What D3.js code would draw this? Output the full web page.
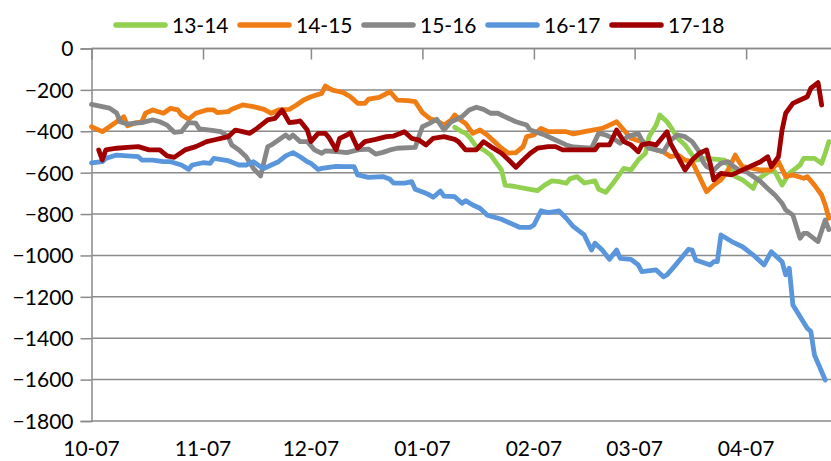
<!DOCTYPE html>
<html>
<head>
<meta charset="utf-8">
<script src="https://cdn.jsdelivr.net/npm/d3@7"></script>
<style>
html,body{margin:0;padding:0;background:#fff;}
svg{display:block;}
text{font-family:Lato, "Open Sans", sans-serif;fill:#000;}
</style>
</head>
<body>
<svg id="chart" width="831" height="461"></svg>
<script>
// ---- data (x = days since 10-07) ----
const seriesNames = ["13-14","14-15","15-16","16-17","17-18"];
const seriesColors = ["#92D050","#F07D14","#878787","#5A96DC","#A00000"];
const tickDays = [0,31,61,92,123,151,182];
const tickLabels = ["10-07","11-07","12-07","01-07","02-07","03-07","04-07"];
const yTicks = [0,-200,-400,-600,-800,-1000,-1200,-1400,-1600,-1800];

const s1314 = [[101,-381],[103,-402],[104,-410],[105,-426],[107,-474],[109,-490],[111,-515],[112,-539],[114,-587],[115,-660],[118,-668],[122,-681],[124,-687],[126,-660],[128,-640],[130,-643],[132,-651],[133,-630],[135,-619],[137,-650],[140,-640],[141,-680],[143,-695],[145,-651],[147,-603],[148,-579],[150,-587],[152,-539],[154,-506],[155,-426],[157,-370],[158,-321],[160,-354],[161,-378],[163,-434],[165,-466],[166,-490],[168,-539],[171,-531],[174,-536],[176,-539],[178,-587],[179,-619],[181,-635],[184,-676],[185,-635],[187,-611],[189,-587],[190,-595],[192,-660],[194,-603],[197,-563],[198,-531],[201,-531],[203,-555],[204,-506],[205,-450]];

const s1415 = [[0,-378],[3,-402],[5,-378],[7,-354],[9,-330],[10,-373],[12,-361],[14,-354],[15,-313],[17,-297],[20,-313],[22,-289],[24,-297],[25,-321],[27,-342],[29,-313],[32,-297],[34,-297],[35,-310],[38,-305],[39,-294],[42,-273],[45,-281],[48,-294],[50,-313],[52,-297],[55,-294],[57,-273],[59,-249],[61,-233],[64,-217],[65,-181],[67,-201],[69,-209],[70,-213],[72,-233],[74,-265],[76,-265],[77,-245],[80,-236],[83,-209],[85,-249],[88,-252],[90,-257],[92,-310],[94,-338],[96,-349],[98,-370],[100,-345],[101,-321],[102,-338],[104,-362],[106,-410],[108,-394],[110,-418],[112,-450],[114,-482],[116,-506],[118,-503],[120,-474],[121,-426],[123,-418],[125,-386],[127,-402],[129,-402],[132,-402],[134,-413],[137,-402],[142,-386],[144,-370],[146,-354],[148,-394],[150,-434],[153,-450],[155,-474],[157,-490],[159,-499],[161,-523],[163,-515],[165,-539],[167,-547],[169,-619],[171,-692],[173,-660],[175,-635],[177,-587],[179,-515],[180,-547],[181,-571],[184,-579],[186,-587],[189,-587],[191,-547],[193,-619],[195,-611],[198,-627],[199,-619],[201,-660],[203,-708],[204,-756],[205,-820]];

const s1516 = [[0,-270],[5,-288],[7,-312],[8,-354],[10,-366],[12,-361],[14,-358],[17,-345],[19,-354],[21,-370],[23,-405],[25,-402],[27,-358],[29,-361],[30,-389],[33,-394],[36,-402],[38,-426],[39,-466],[41,-490],[43,-523],[45,-579],[47,-616],[49,-474],[50,-466],[52,-442],[54,-418],[55,-434],[56,-418],[58,-450],[60,-450],[62,-490],[64,-506],[65,-495],[69,-499],[71,-503],[74,-490],[77,-486],[79,-510],[81,-502],[83,-490],[85,-482],[90,-478],[91,-426],[92,-378],[94,-362],[96,-342],[98,-394],[100,-354],[102,-338],[103,-330],[105,-297],[107,-284],[109,-294],[111,-313],[113,-313],[115,-330],[118,-354],[121,-370],[122,-394],[126,-418],[129,-442],[132,-466],[134,-476],[139,-482],[141,-410],[143,-418],[145,-434],[147,-458],[149,-426],[152,-410],[153,-442],[155,-482],[157,-490],[159,-499],[161,-442],[163,-418],[165,-426],[167,-450],[169,-499],[170,-547],[171,-571],[173,-587],[175,-555],[177,-547],[178,-563],[180,-587],[182,-595],[184,-619],[186,-643],[188,-676],[190,-708],[192,-748],[193,-780],[195,-805],[197,-917],[198,-893],[199,-893],[202,-933],[204,-829],[205,-875]];

const s1617 = [[0,-553],[3,-547],[4,-531],[7,-515],[10,-519],[13,-523],[14,-539],[17,-539],[20,-547],[22,-547],[25,-563],[27,-584],[28,-563],[31,-552],[33,-555],[34,-531],[37,-539],[38,-542],[41,-563],[43,-563],[45,-547],[47,-571],[48,-579],[50,-563],[52,-547],[54,-519],[56,-503],[58,-523],[60,-547],[61,-555],[63,-584],[64,-579],[66,-574],[68,-570],[71,-571],[73,-571],[74,-611],[77,-623],[81,-619],[83,-632],[84,-651],[87,-651],[89,-643],[90,-680],[93,-700],[94,-708],[95,-719],[97,-689],[98,-713],[101,-716],[103,-748],[104,-735],[106,-756],[108,-772],[110,-805],[114,-825],[119,-864],[122,-864],[123,-853],[125,-784],[127,-793],[130,-785],[132,-820],[134,-861],[137,-901],[139,-974],[140,-941],[142,-974],[144,-1019],[146,-974],[147,-1014],[150,-1019],[152,-1046],[153,-1078],[157,-1070],[159,-1103],[160,-1094],[162,-1054],[166,-970],[167,-974],[168,-1022],[172,-1046],[173,-1030],[174,-1030],[175,-901],[178,-933],[181,-958],[184,-998],[187,-1046],[189,-982],[192,-1030],[193,-1094],[194,-1062],[195,-1239],[199,-1352],[200,-1368],[201,-1481],[202,-1521],[204,-1602]];

const s1718 = [[2,-490],[3,-539],[4,-490],[7,-482],[10,-478],[13,-474],[16,-490],[19,-490],[21,-519],[23,-526],[26,-490],[29,-474],[32,-450],[34,-442],[36,-434],[38,-426],[40,-394],[42,-402],[44,-410],[46,-386],[49,-345],[51,-338],[53,-297],[55,-358],[57,-354],[58,-350],[60,-394],[61,-450],[63,-410],[65,-410],[66,-430],[68,-490],[69,-434],[71,-418],[72,-407],[74,-482],[76,-450],[79,-439],[82,-426],[84,-423],[87,-402],[89,-434],[91,-442],[93,-466],[95,-434],[98,-426],[101,-439],[102,-450],[104,-490],[107,-490],[109,-450],[111,-474],[114,-506],[116,-539],[118,-574],[120,-539],[122,-506],[124,-482],[127,-474],[129,-474],[131,-490],[140,-490],[141,-466],[144,-466],[146,-394],[148,-450],[150,-466],[152,-499],[153,-466],[155,-458],[157,-466],[160,-402],[161,-458],[163,-523],[165,-587],[167,-539],[169,-506],[171,-490],[172,-555],[173,-635],[175,-603],[178,-611],[180,-595],[183,-571],[186,-547],[188,-523],[189,-571],[191,-523],[192,-394],[193,-313],[195,-265],[197,-249],[199,-233],[200,-192],[202,-165],[203,-273]];

const seriesData = [s1314, s1415, s1516, s1617, s1718];

// ---- drawing ----
const svg = d3.select("#chart");
const x = d3.scaleLinear().domain([0, 205.6]).range([91.5, 831]);
const y = d3.scaleLinear().domain([-1800, 0]).range([421, 48.5]);
const gridColor = "#8a8a8a";
const fontSize = "21px";

// gridlines
svg.append("g").selectAll("line").data(yTicks).join("line")
  .attr("x1", x.range()[0]).attr("x2", 831)
  .attr("y1", d => y(d)).attr("y2", d => y(d))
  .attr("stroke", gridColor).attr("stroke-width", 1.5);

// y axis
const yAxis = svg.append("g").attr("transform", `translate(${x.range()[0]},0)`)
  .call(d3.axisLeft(y).tickValues(yTicks).tickSize(11).tickPadding(7).tickFormat(d3.format("d")));
yAxis.select(".domain").attr("stroke", gridColor).attr("stroke-width", 1.5);
yAxis.selectAll(".tick line").attr("stroke", gridColor).attr("stroke-width", 1.5);
yAxis.selectAll("text").style("font-size", fontSize).attr("dy", "0.35em");

// x axis (at value 0, top) with ticks pointing down; labels below the plot
const xAxis = svg.append("g").attr("transform", `translate(0,${y(0)})`)
  .call(d3.axisBottom(x).tickValues(tickDays).tickSize(11).tickFormat(""));
xAxis.select(".domain").attr("stroke", gridColor).attr("stroke-width", 1.5).attr("d", `M${x.range()[0]},0H831`);
xAxis.selectAll(".tick line").attr("stroke", gridColor).attr("stroke-width", 1.5);

svg.append("g").selectAll("text").data(tickDays).join("text")
  .attr("x", d => x(d)).attr("y", 456)
  .attr("text-anchor", "middle").style("font-size", fontSize)
  .text((d, i) => tickLabels[i]);

// lines
const line = d3.line().x(d => x(d[0])).y(d => y(d[1]));
svg.append("g").selectAll("path").data(seriesData).join("path")
  .attr("d", line)
  .attr("fill", "none")
  .attr("stroke", (d, i) => seriesColors[i])
  .attr("stroke-width", 4.8)
  .attr("stroke-linejoin", "round")
  .attr("stroke-linecap", "round");

// legend
const leg = svg.append("g").selectAll("g").data(seriesNames).join("g")
  .attr("transform", (d, i) => `translate(${116 + i * 124},25)`);
leg.append("line").attr("x1", 0).attr("x2", 49).attr("y1", 0).attr("y2", 0)
  .attr("stroke", (d, i) => seriesColors[i]).attr("stroke-width", 5.5).attr("stroke-linecap", "round");
leg.append("text").attr("x", 56).attr("y", 0).attr("dy", "0.36em")
  .style("font-size", fontSize).text(d => d);
</script>
</body>
</html>
